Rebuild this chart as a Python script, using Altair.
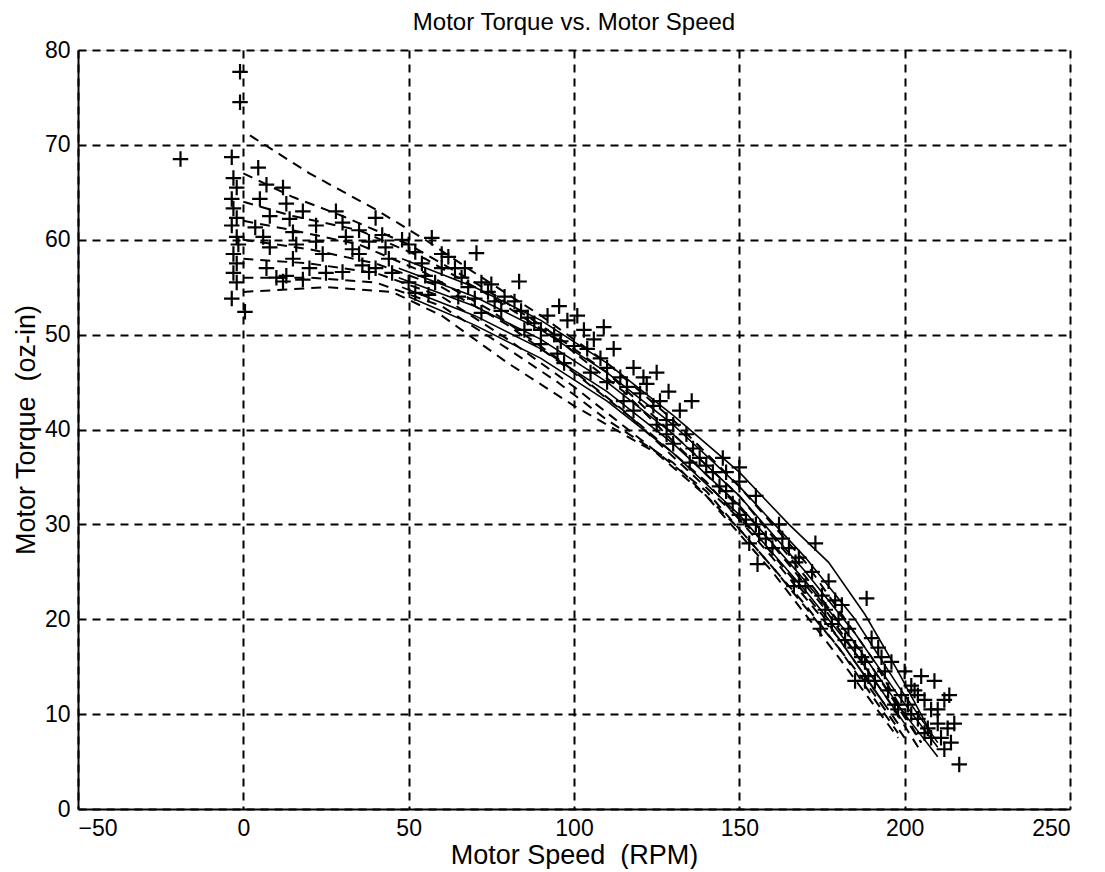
import altair as alt
import pandas as pd

# ---- measured points (+ markers) ----
point_speed = [
    -19, -1, -1, -3.5, -3, -2, -3.5, -3, -2, -3.5, -2, -3, -2, -3, -2, -3.5, 0.5, -1.5,
    4.5, 5, 3.6, 7, 8, 6, 8, 7, 10, 12,
    12, 13, 14, 15, 16, 15, 13, 18, 20, 22, 22, 24, 25, 18,
    28, 30, 31, 33, 35, 36, 38, 40, 42, 43, 44, 35, 38, 40, 45, 30,
    48, 50, 52, 54, 55, 57, 60, 50, 52, 56, 58, 60,
    62, 64, 66, 67, 68, 70.5, 72, 74, 76, 78, 65, 70, 75, 83.4, 79, 72,
    82, 84, 86, 88, 90, 92, 94, 95.5, 96, 98, 100, 85, 90, 95, 101, 97,
    103, 104, 106, 108, 109, 110, 112, 114, 116, 118, 120, 105, 110, 115, 121, 118,
    122, 124, 125, 126, 128.6, 128, 130, 132, 134, 135.6, 136, 138, 140, 125, 130, 135, 128,
    142, 144, 145, 146, 148, 150, 150, 152, 155.5, 155, 156, 158, 160, 150, 155, 146, 153,
    162, 163, 165, 166.5, 167, 168, 170, 172, 173, 175, 174.5, 176, 178, 180, 168, 177, 179,
    181, 182, 183, 185, 188.5, 187, 188, 188, 189, 190, 191, 192, 193, 194, 195, 196, 197, 198, 199, 200, 185,
    201, 202, 203, 204, 205, 206, 207, 208, 209, 210, 211, 212, 213.5, 213, 214, 215, 216.5, 204, 208, 212, 210, 206, 202,
]
point_torque = [
    68.5, 77.7, 74.5, 68.7, 66.5, 65.5, 64.3, 63.3, 62.3, 61.5, 60.3, 58.5, 57.5, 56.5, 55.5, 53.8, 52.4, 59.5,
    67.6, 64.3, 61.3, 65.8, 62.5, 60.3, 59.2, 57, 56, 55.6,
    65.5, 63.8, 62.2, 60.8, 59.5, 58, 56.2, 55.8, 57, 61.5, 59.8, 58.5, 56.5, 63,
    63, 61.8, 60.3, 59, 58.5, 57.3, 56.6, 62.3, 60.5, 59.2, 58, 61, 59.8, 57, 56.5, 56.6,
    60, 59.5, 58.7, 57.5, 56.2, 60.2, 58.5, 55.5, 54.4, 54.2, 55.5, 57,
    58.2, 57, 56, 57, 55, 58.6, 55.5, 54.5, 53.5, 52.5, 54, 53.8, 55.3, 55.6, 54, 52.3,
    53.5, 52.5, 51.8, 51.2, 50.5, 52, 50, 53, 49.3, 51.5, 48.8, 50.5, 49, 48, 52, 47,
    50.5, 48.5, 49.5, 47.5, 50.8, 46.5, 48.5, 45.5, 44.5, 46.5, 43.8, 46, 45, 43, 45.5, 42,
    44.8, 42.5, 46, 43, 44, 41, 40.5, 42, 39.5, 43, 38, 37, 36.2, 40.5, 38.5, 36.5, 39.5,
    35.5, 34, 37, 33.5, 32.2, 31, 36, 30.5, 25.8, 30, 29, 28.5, 27.5, 34.5, 33, 35.5, 28,
    30, 28.5, 27.5, 23.5, 26, 24, 23.5, 25, 28, 22.5, 19, 21, 19.5, 20, 26.5, 24, 22,
    21.5, 17.8, 19, 17, 22.2, 16, 15.5, 13.5, 14, 18, 13.5, 17, 16, 14.5, 12.5, 15.5, 11, 10.5, 12, 14.5, 13.5,
    11, 10, 12.5, 9.5, 14, 11.5, 8.5, 10.5, 13.5, 9, 7.5, 11.5, 12, 8.5, 7, 9, 4.7, 12, 7.5, 6.3, 10.5, 8, 13,
]

# ---- dashed curves ----
dash1_x = [2, 20, 40, 55, 70, 90, 110, 130, 150, 170, 190, 205]
dash1_y = [71, 67, 63.2, 60, 56.5, 52, 47, 41, 34, 26, 16, 7]
dash2_x = [0, 15, 30, 50, 70, 90, 110, 130, 150, 170, 190, 205]
dash2_y = [67, 64.5, 62.5, 59.5, 55.5, 51, 46, 39.5, 33, 24.5, 15, 7]
dash3_x = [0, 15, 35, 55, 75, 95, 115, 135, 155, 175, 195, 205]
dash3_y = [64, 62.5, 61, 58, 54, 49.5, 44, 37, 30, 21.5, 11.5, 6]
dash4_x = [0, 15, 35, 55, 75, 95, 115, 135, 155, 175, 195]
dash4_y = [62, 61, 59.5, 56.5, 52.5, 47.5, 42, 35.5, 29, 20.5, 10.5]
dash5_x = [0, 20, 40, 60, 80, 100, 120, 140, 160, 180, 198]
dash5_y = [60, 59, 57.5, 55, 51, 46, 40.5, 34.5, 26.5, 18, 9]
dash6_x = [0, 20, 40, 60, 80, 100, 120, 140, 160, 180, 198]
dash6_y = [58, 57.5, 56.5, 54, 49.5, 44.5, 39, 33.5, 25.5, 17, 8]
dash7_x = [0, 20, 40, 60, 80, 95, 110, 130, 150, 170, 190, 200]
dash7_y = [56, 56, 55.5, 53, 48.5, 45, 41, 36.5, 29.5, 21.5, 12.5, 7.5]
dash8_x = [0, 25, 45, 60, 80, 100, 125, 140, 160, 180, 198]
dash8_y = [54.5, 55, 54.5, 52, 47, 42.5, 37.5, 33, 25, 16, 7.5]

# ---- solid curves ----
solid1_x = [48, 70, 90, 110, 130, 150, 165, 177, 188, 198, 208]
solid1_y = [58, 55, 51.5, 47, 41.5, 35.5, 30, 26, 20.5, 14.5, 8]
solid2_x = [47, 70, 90, 110, 130, 150, 170, 185, 198, 210]
solid2_y = [57, 54, 50.5, 46, 40.5, 34, 26.5, 20, 13, 7]
solid3_x = [47, 70, 90, 110, 130, 150, 170, 185, 198, 210]
solid3_y = [56, 53, 49.5, 45, 39.5, 33, 25, 18.5, 12, 6.5]
solid4_x = [48, 70, 90, 110, 130, 150, 170, 185, 200, 210]
solid4_y = [55, 52, 48.5, 44, 38.5, 32, 24, 17.5, 10, 5.5]
solid5_x = [50, 70, 90, 110, 130, 150, 170, 185, 200]
solid5_y = [54, 51, 47.5, 43, 37.5, 31, 23, 16.5, 9]

x_ticks = [-50, 0, 50, 100, 150, 200, 250]
y_ticks = [0, 10, 20, 30, 40, 50, 60, 70, 80]

dashed = [(dash1_x, dash1_y), (dash2_x, dash2_y), (dash3_x, dash3_y), (dash4_x, dash4_y),
          (dash5_x, dash5_y), (dash6_x, dash6_y), (dash7_x, dash7_y), (dash8_x, dash8_y)]
solid = [(solid1_x, solid1_y), (solid2_x, solid2_y), (solid3_x, solid3_y),
         (solid4_x, solid4_y), (solid5_x, solid5_y)]

rows = []
for i, (xs, ys) in enumerate(dashed):
    for j, (a, b) in enumerate(zip(xs, ys)):
        rows.append({"speed": a, "torque": b, "curve": f"d{i}", "order": j})
dash_df = pd.DataFrame(rows)
rows = []
for i, (xs, ys) in enumerate(solid):
    for j, (a, b) in enumerate(zip(xs, ys)):
        rows.append({"speed": a, "torque": b, "curve": f"s{i}", "order": j})
solid_df = pd.DataFrame(rows)
pts_df = pd.DataFrame({"speed": point_speed, "torque": point_torque})

FONT = "Liberation Sans"
NB = "\u00a0"

xscale = alt.Scale(domain=[-50, 250], nice=False, zero=False)
yscale = alt.Scale(domain=[0, 80], nice=False, zero=False)

common = dict(grid=True, ticks=False, labelFontSize=23, titleFontSize=27,
              titleFontWeight="normal", labelFont=FONT, titleFont=FONT,
              domainColor="black", domainWidth=2, labelColor="black", titleColor="black",
              gridColor="black", gridDash=[8, 6], gridWidth=2, gridOpacity=1, labelPadding=8)
xaxis = alt.Axis(values=x_ticks, title=f"Motor Speed{NB}{NB}(RPM)", titlePadding=2, **common)
yaxis = alt.Axis(values=y_ticks, title=f"Motor Torque{NB}{NB}(oz-in)", titlePadding=4, **common)

base_x = alt.X("speed:Q", scale=xscale, axis=xaxis)
base_y = alt.Y("torque:Q", scale=yscale, axis=yaxis)

dash_layer = alt.Chart(dash_df).mark_line(color="black", strokeWidth=2, strokeDash=[10, 7]).encode(
    x=base_x, y=base_y, detail="curve:N", order="order:Q")
solid_layer = alt.Chart(solid_df).mark_line(color="black", strokeWidth=1.6).encode(
    x=base_x, y=base_y, detail="curve:N", order="order:Q")
pts_layer = alt.Chart(pts_df).mark_point(
    shape="M-1,0L1,0M0,-1L0,1", size=240, filled=False, color="black",
    strokeWidth=2.2, opacity=1).encode(x=base_x, y=base_y)

chart = alt.layer(dash_layer, solid_layer, pts_layer).properties(
    width=992, height=759,
    title=alt.TitleParams("Motor Torque vs. Motor Speed", fontSize=24, font=FONT,
                          fontWeight="normal", color="black", offset=4),
    padding={"left": 70, "top": 42, "right": 20, "bottom": 60},
    autosize=alt.AutoSizeParams(type="none"),
).configure_view(stroke="black", strokeWidth=2).configure(background="white")

chart.save("out.html", embed_options={"renderer": "svg", "actions": False})
